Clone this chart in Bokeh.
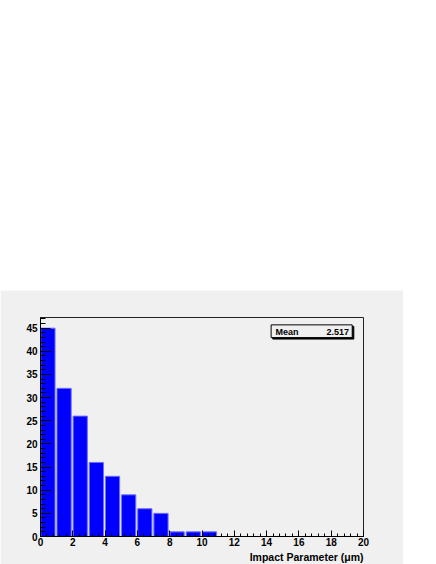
from bokeh.plotting import figure
from bokeh.layouts import column
from bokeh.models import Spacer, FixedTicker, Label, BoxAnnotation, ColumnDataSource, Title
from bokeh.embed import file_html
from bokeh.resources import INLINE

# ---- data ----
bin_left = list(range(0, 20))
counts = [45, 32, 26, 16, 13, 9, 6, 5, 1, 1, 1, 0, 0, 0, 0, 0, 0, 0, 0, 0]
x_label = "Impact Parameter (\u03bcm)"
stat_name = "Mean"
stat_value = "2.517"
x_major = [0, 2, 4, 6, 8, 10, 12, 14, 16, 18, 20]
y_major = [0, 5, 10, 15, 20, 25, 30, 35, 40, 45]

BG = "#f0f0f0"
FONT = "Liberation Sans"

bar_offset = 0.02
bar_width = 0.88
src = ColumnDataSource(dict(
    left=[b + bar_offset for b in bin_left],
    right=[b + bar_offset + bar_width for b in bin_left],
    top=counts,
    bottom=[0] * len(counts),
))

p = figure(width=403, height=274, x_range=(0, 20), y_range=(0, 47.3),
           output_backend="svg", toolbar_location=None,
           background_fill_color=BG, border_fill_color=BG,
           min_border_left=40, min_border_right=40,
           min_border_top=27, min_border_bottom=28)

p.quad(left="left", right="right", top="top", bottom="bottom", source=src,
       fill_color="#0000ff", line_color="#7070ff", line_width=1)

p.xgrid.visible = False
p.ygrid.visible = False
p.outline_line_color = "#222222"
p.outline_line_width = 1

# x axis
xa = p.xaxis[0]
xa.ticker = FixedTicker(ticks=x_major,
                        minor_ticks=[round(i * 0.4, 2) for i in range(0, 51)])
xa.major_tick_in = 6
xa.major_tick_out = 0
xa.minor_tick_in = 3
xa.minor_tick_out = 0
xa.major_label_standoff = 1
xa.major_label_text_font = FONT
xa.major_label_text_font_style = "bold"
xa.major_label_text_font_size = "10px"
xa.major_label_text_color = "black"
xa.axis_line_color = "black"

# y axis
ya = p.yaxis[0]
ya.ticker = FixedTicker(ticks=y_major, minor_ticks=list(range(0, 48)))
ya.major_tick_in = 10
ya.major_tick_out = 0
ya.minor_tick_in = 5
ya.minor_tick_out = 0
ya.major_label_standoff = 3
ya.major_label_text_font = FONT
ya.major_label_text_font_style = "bold"
ya.major_label_text_font_size = "10px"
ya.major_label_text_color = "black"
ya.axis_line_color = "black"

# axis title (right aligned under the axis)
p.add_layout(Title(text=x_label, align="right", text_font=FONT,
                   text_font_style="bold", text_font_size="10.5px",
                   text_color="black", standoff=0), "below")

# stats box
p.add_layout(BoxAnnotation(left=14.38, right=19.40, bottom=42.64, top=45.39,
                           fill_color="black", fill_alpha=1, line_color="black",
                           line_alpha=1))
p.add_layout(BoxAnnotation(left=14.28, right=19.30, bottom=42.96, top=45.71,
                           fill_color=BG, fill_alpha=1, line_color="black",
                           line_width=1, line_alpha=1))
p.add_layout(Label(x=14.55, y=44.1, text=stat_name, text_align="left",
                   text_baseline="middle", text_font=FONT,
                   text_font_style="bold", text_font_size="9px",
                   text_color="black"))
p.add_layout(Label(x=19.1, y=44.1, text=stat_value, text_align="right",
                   text_baseline="middle", text_font=FONT,
                   text_font_style="bold", text_font_size="9px",
                   text_color="black"))

layout = column(Spacer(width=403, height=290), p, spacing=0)

open("out.html", "w").write(file_html(layout, INLINE))
